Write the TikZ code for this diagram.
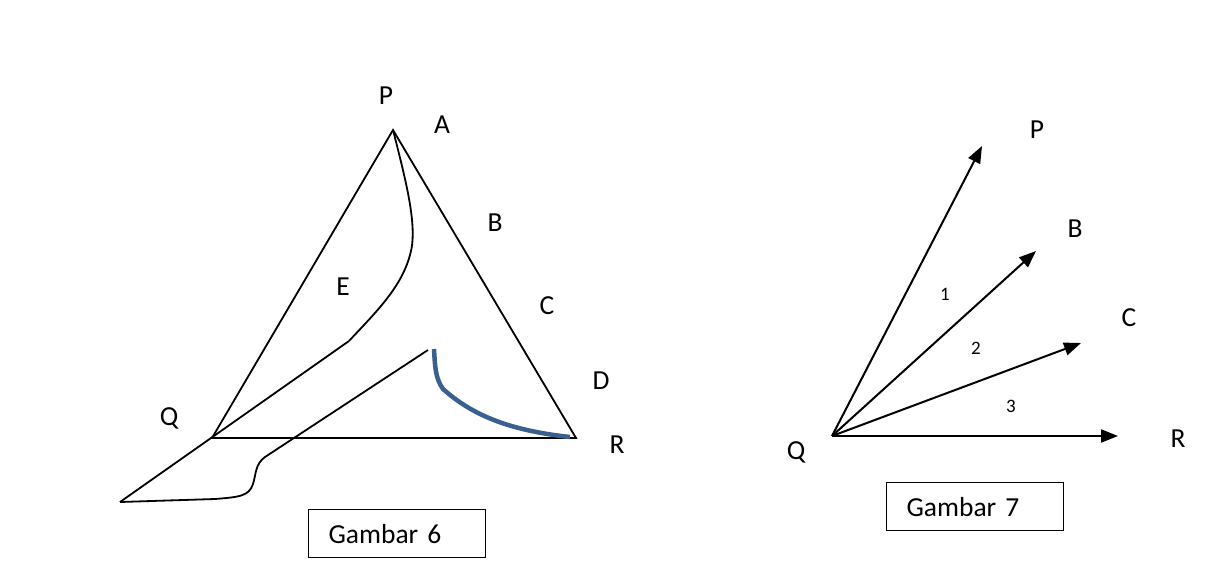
\documentclass[tikz,border=0pt]{standalone}
\usepackage{fontspec}
\setmainfont{Carlito}
\usetikzlibrary{arrows.meta}
\definecolor{curveblue}{HTML}{3A6090}
\tikzset{
  lbl/.style={inner sep=0pt, font=\fontsize{27.5}{32}\selectfont},
  num/.style={inner sep=0pt, font=\fontsize{19}{22}\selectfont},
  thin/.style={line width=1.8pt, line join=miter},
  arr/.style={line width=2pt, -{Triangle[length=17pt, width=13pt]}},
  capbox/.style={draw, line width=1.2pt, anchor=north west, minimum width=177pt, minimum height=48pt,
     text width=137pt, inner xsep=20pt, align=left, font=\fontsize{27.5}{32}\selectfont},
  bluecurve/.style={curveblue, line width=4.5pt}
}
\begin{document}
\begin{tikzpicture}[x=1pt,y=-1pt]
\useasboundingbox (0,0) rectangle (1213,571);
% ---------- Gambar 6 ----------
\coordinate (P) at (393,130);
\coordinate (Q) at (212,438);
\coordinate (R) at (576,438);
\coordinate (far) at (120,502);
\coordinate (Eend) at (349,341);
\coordinate (mid) at (428,350);
\coordinate (bs) at (434,349);
\coordinate (be) at (570,437);

\draw[thin] (Q) -- (P) -- (R) -- cycle;
\draw[thin] (P) .. controls (407,185) and (418,228) .. (410,255)
             .. controls (401,288) and (376,312) .. (Eend);
\draw[thin] (far) -- (Eend);
\draw[thin] (mid) -- (265,457) .. controls (255,464) and (256,475) .. (253,484)
             .. controls (249,496) and (240,497) .. (215,499) -- (far);
\draw[bluecurve] (bs) .. controls (435,365) and (435,378) .. (443,389)
             .. controls (470,413) and (505,430) .. (be);

\node[lbl] (lP) at (386,96) {P};
\node[lbl] (lA) at (442,125) {A};
\node[lbl] (lB) at (495,223) {B};
\node[lbl] (lC) at (547,306) {C};
\node[lbl] (lD) at (601,381) {D};
\node[lbl] (lE) at (343,287) {E};
\node[lbl] (lQ) at (169,418) {Q};
\node[lbl] (lR) at (617,445) {R};
\node[capbox] (g6) at (308,509) {Gambar 6};

% ---------- Gambar 7 ----------
\coordinate (O) at (832,436);
\coordinate (tP) at (982,146);
\coordinate (tB) at (1036,251);
\coordinate (tC) at (1081,343);
\coordinate (tR) at (1118,436);
\draw[arr] (O) -- (tP);
\draw[arr] (O) -- (tB);
\draw[arr] (O) -- (tC);
\draw[arr] (O) -- (tR);

\node[lbl] (rP) at (1037,130) {P};
\node[lbl] (rB) at (1075,229) {B};
\node[lbl] (rC) at (1129,318) {C};
\node[lbl] (rR) at (1178,439) {R};
\node[lbl] (rQ) at (796,452) {Q};
\node[num] (n1) at (945,294) {1};
\node[num] (n2) at (976,348) {2};
\node[num] (n3) at (1011,406) {3};
\node[capbox] (g7) at (886,482) {Gambar 7};
\end{tikzpicture}
\end{document}
